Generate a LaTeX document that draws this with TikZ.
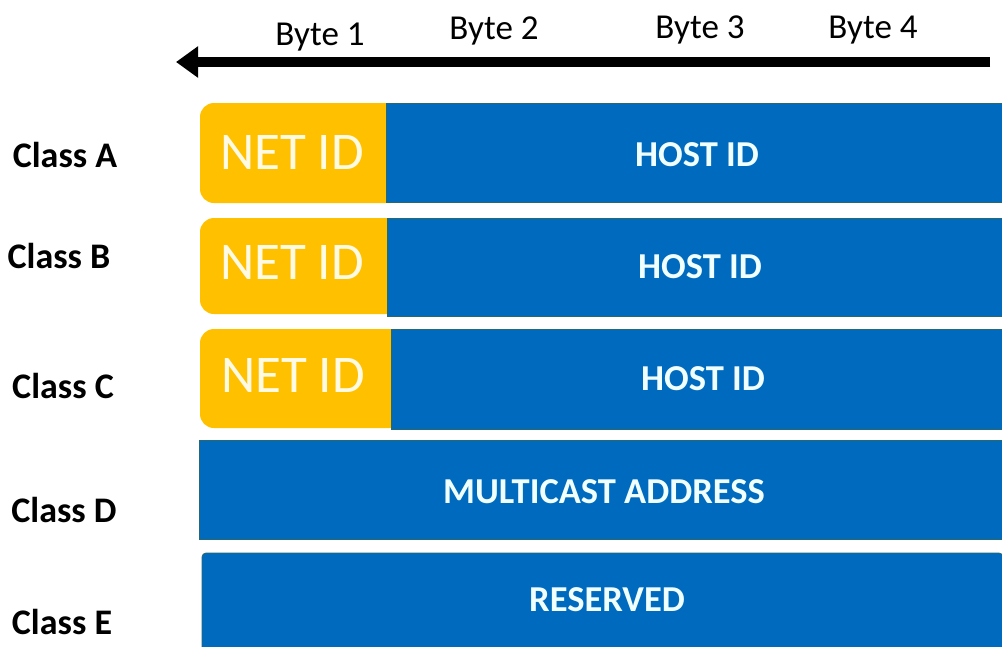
\documentclass[tikz,border=0pt]{standalone}
\usepackage{fontspec}
\setmainfont{Carlito}
\usetikzlibrary{arrows.meta}
\definecolor{ipblue}{RGB}{0,106,190}
\definecolor{ipedge}{RGB}{40,105,110}
\definecolor{ipgold}{RGB}{255,192,0}
\definecolor{netcol}{RGB}{255,250,228}
\definecolor{hostcol}{RGB}{240,255,255}
\tikzset{
  netblk/.style={fill=ipgold, draw=none, rounded corners=14pt, inner sep=0pt, outer sep=0pt, anchor=north west},
  hostblk/.style={fill=ipblue, draw=ipedge, line width=0.8pt, inner sep=0pt, outer sep=0pt, anchor=north west},
  classlbl/.style={font=\fontsize{36}{42}\selectfont\bfseries, text=black, inner sep=0pt},
  bytelbl/.style={font=\fontsize{35}{41}\selectfont, text=black, inner sep=0pt},
  nettxt/.style={font=\fontsize{53}{60}\selectfont, text=netcol, inner sep=0pt},
  hosttxt/.style={font=\fontsize{36.5}{42}\selectfont\bfseries, text=hostcol, inner sep=0pt},
}
\begin{document}
\begin{tikzpicture}[x=1pt,y=-1pt]
\useasboundingbox (0,0) rectangle (1002,646);
% byte arrow
\coordinate (arrS) at (990,62);
\coordinate (arrE) at (176,62);
\draw[line width=9.5pt, -{Triangle[width=30pt,length=22pt]}] (arrS) -- (arrE);
\node[bytelbl] (b1) at (320,37) {Byte 1};
\node[bytelbl] (b2) at (494,31) {Byte 2};
\node[bytelbl] (b3) at (700,30) {Byte 3};
\node[bytelbl] (b4) at (873,30) {Byte 4};
% class A
\node[netblk, minimum width=205pt, minimum height=100pt] (netA) at (200,103) {};
\node[hostblk, minimum width=617pt, minimum height=99pt] (hostA) at (386,103) {};
% class B
\node[netblk, minimum width=205pt, minimum height=96pt] (netB) at (200,218) {};
\node[hostblk, minimum width=616pt, minimum height=98pt] (hostB) at (387,218) {};
% class C
\node[netblk, minimum width=205pt, minimum height=99pt] (netC) at (200,329) {};
\node[hostblk, minimum width=612pt, minimum height=100pt] (hostC) at (391,329) {};
% class D
\node[hostblk, minimum width=804pt, minimum height=99pt] (rowD) at (199,440) {};
% class E
\node[hostblk, rounded corners=4pt, minimum width=801pt, minimum height=100pt] (rowE) at (202,553) {};
% texts in blocks
\node[nettxt] (tA) at (292,152) {NET ID};
\node[nettxt] (tB) at (292,262) {NET ID};
\node[nettxt] (tC) at (293,375) {NET ID};
\node[hosttxt] (hA) at (697,155) {HOST ID};
\node[hosttxt] (hB) at (700,267) {HOST ID};
\node[hosttxt] (hC) at (703,379) {HOST ID};
\node[hosttxt] (mD) at (604,492) {MULTICAST ADDRESS};
\node[hosttxt] (rE) at (607,600) {RESERVED};
% class labels
\node[classlbl] (cA) at (65,155) {Class A};
\node[classlbl] (cB) at (59,256) {Class B};
\node[classlbl] (cC) at (63,386) {Class C};
\node[classlbl] (cD) at (64,510) {Class D};
\node[classlbl] (cE) at (62,622) {Class E};
\end{tikzpicture}
\end{document}
